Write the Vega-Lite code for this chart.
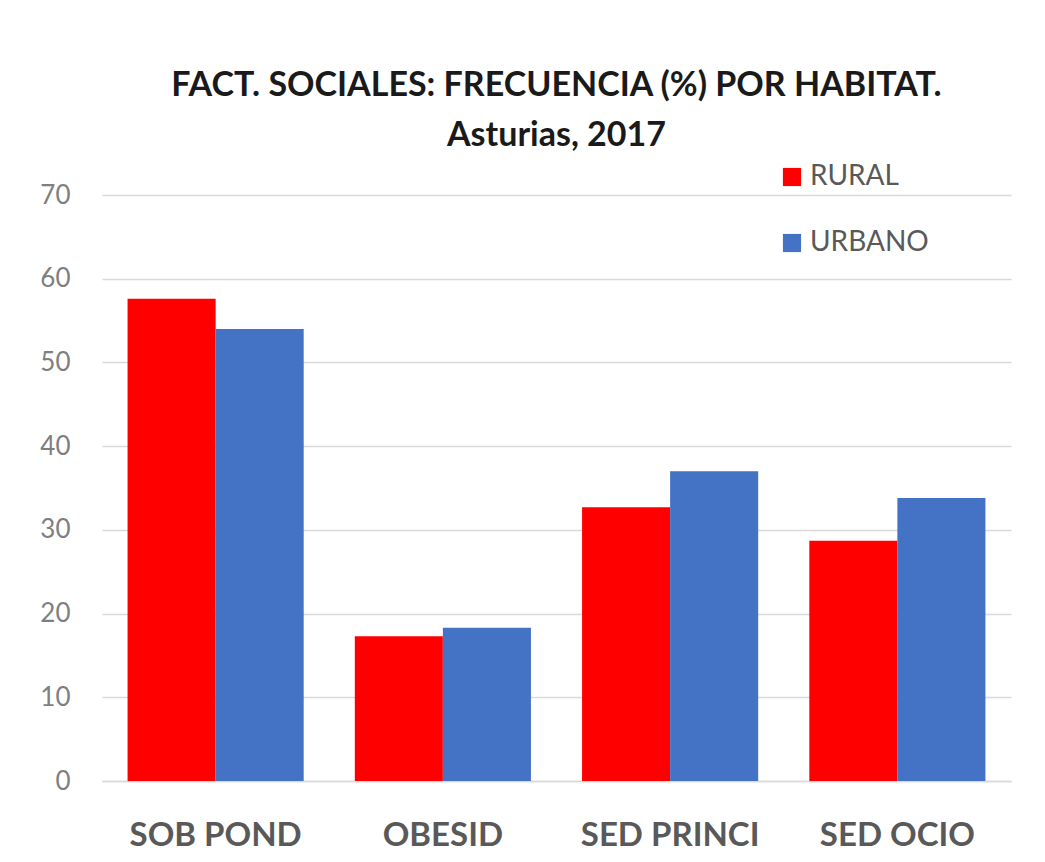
{
  "$schema": "https://vega.github.io/schema/vega-lite/v6.json",
  "autosize": "none",
  "width": 909,
  "height": 586,
  "padding": {"left": 102, "top": 195, "right": 34, "bottom": 81},
  "background": "white",
  "title": {
    "text": ["FACT. SOCIALES: FRECUENCIA (%) POR HABITAT.", "Asturias, 2017"],
    "anchor": "middle",
    "frame": "group",
    "font": "Lato",
    "fontWeight": "bold",
    "fontSize": 34,
    "lineHeight": 50,
    "color": "#1a1a1a",
    "offset": 10
  },
  "data": {
    "values": [
      {"cat": "SOB POND", "zona": "RURAL", "val": 57.6},
      {"cat": "SOB POND", "zona": "URBANO", "val": 54.0},
      {"cat": "OBESID", "zona": "RURAL", "val": 17.3},
      {"cat": "OBESID", "zona": "URBANO", "val": 18.3},
      {"cat": "SED PRINCI", "zona": "RURAL", "val": 32.7},
      {"cat": "SED PRINCI", "zona": "URBANO", "val": 37.0},
      {"cat": "SED OCIO", "zona": "RURAL", "val": 28.7},
      {"cat": "SED OCIO", "zona": "URBANO", "val": 33.8}
    ]
  },
  "mark": {"type": "bar"},
  "encoding": {
    "x": {
      "field": "cat",
      "type": "nominal",
      "sort": null,
      "title": null,
      "scale": {"paddingInner": 0.225, "paddingOuter": 0.1125},
      "axis": {
        "labelAngle": 0,
        "labelFont": "Lato",
        "labelFontWeight": "bold",
        "labelFontSize": 33,
        "labelColor": "#595959",
        "labelPadding": 38,
        "ticks": false,
        "domainColor": "#d9d9d9",
        "domainWidth": 1.5
      }
    },
    "xOffset": {"field": "zona", "sort": ["RURAL", "URBANO"]},
    "y": {
      "field": "val",
      "type": "quantitative",
      "title": null,
      "scale": {"domain": [0, 70], "nice": false},
      "axis": {
        "values": [0, 10, 20, 30, 40, 50, 60, 70],
        "labelFont": "Lato",
        "labelFontSize": 26,
        "labelColor": "#7f7f7f",
        "labelPadding": 32,
        "ticks": false,
        "domain": false,
        "gridColor": "#d9d9d9",
        "gridWidth": 1.5
      }
    },
    "color": {
      "field": "zona",
      "type": "nominal",
      "scale": {"domain": ["RURAL", "URBANO"], "range": ["#ff0000", "#4472c4"]},
      "legend": {
        "title": null,
        "orient": "none",
        "legendX": 676,
        "legendY": -32,
        "symbolType": "square",
        "symbolSize": 330,
        "symbolStrokeWidth": 0,
        "labelFont": "Lato",
        "labelFontSize": 28,
        "labelColor": "#595959",
        "labelOffset": 4,
        "rowPadding": 38
      }
    }
  },
  "config": {"view": {"stroke": null}}
}
